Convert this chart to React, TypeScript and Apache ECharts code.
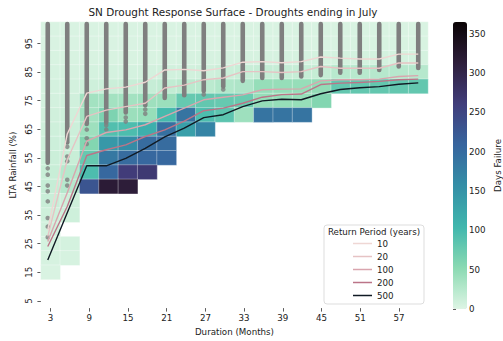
import React, { useEffect, useRef } from "react";
import * as echarts from "echarts";

const TITLE = "SN Drought Response Surface - Droughts ending in July";
const FONT = "DejaVu Sans";

// Durations (months) of the heatmap columns
const durations = [3, 6, 9, 12, 15, 18, 21, 24, 27, 30, 33, 36, 39, 42, 45, 48, 51, 54, 57, 60];
// LTA rainfall (%) of the heatmap rows, bottom to top
const rainfallLevels = [5, 10, 15, 20, 25, 30, 35, 40, 45, 50, 55, 60, 65, 70, 75, 80, 85, 90, 95, 100];
// Colour bar ticks
const colorbarTicks = [0, 50, 100, 150, 200, 250, 300, 350];
const colorbarMax = 365;

// Days failure per rainfall row (columns = durations); null = no data
const N = null;
const df100 = [3, 3, 3, 3, 3, 3, 3, 3, 3, 3, 3, 3, 3, 3, 3, 3, 3, 3, 3, 3];
const df95 = [3, 3, 3, 3, 3, 3, 3, 3, 3, 3, 3, 3, 3, 3, 3, 3, 4, 4, 4, 4];
const df90 = [4, 4, 4, 4, 4, 4, 4, 5, 5, 5, 5, 5, 5, 5, 6, 6, 6, 6, 6, 6];
const df85 = [5, 5, 6, 6, 6, 7, 8, 8, 9, 12, 14, 15, 15, 15, 16, 24, 24, 25, 25, 25];
const df80 = [6, 7, 10, 12, 14, 15, 18, 22, 22, 28, 30, 45, 45, 45, 48, 80, 80, 80, 80, 80];
const df75 = [7, 9, 37, 37, 37, 40, 42, 78, 80, 78, 75, 45, 45, 45, 58, N, N, N, N, N];
const df70 = [9, 10, 37, 62, 42, 45, 100, 190, 95, 85, 40, 190, 190, 190, N, N, N, N, N, N];
const df65 = [10, 11, 40, 92, 95, 115, 195, 135, 170, N, N, N, N, N, N, N, N, N, N, N];
const df60 = [11, 12, 58, 145, 160, 200, 200, N, N, N, N, N, N, N, N, N, N, N, N, N];
const df55 = [12, 14, 78, 185, 200, 205, 205, N, N, N, N, N, N, N, N, N, N, N, N, N];
const df50 = [14, 25, 95, 205, 262, 268, N, N, N, N, N, N, N, N, N, N, N, N, N, N];
const df45 = [15, 25, 230, 318, 315, N, N, N, N, N, N, N, N, N, N, N, N, N, N, N];
const df40 = [13, 10, N, N, N, N, N, N, N, N, N, N, N, N, N, N, N, N, N, N];
const df35 = [10, 10, N, N, N, N, N, N, N, N, N, N, N, N, N, N, N, N, N, N];
const df30 = [8, N, N, N, N, N, N, N, N, N, N, N, N, N, N, N, N, N, N, N];
const df25 = [6, 6, N, N, N, N, N, N, N, N, N, N, N, N, N, N, N, N, N, N];
const df20 = [5, 5, N, N, N, N, N, N, N, N, N, N, N, N, N, N, N, N, N, N];
const df15 = [3, N, N, N, N, N, N, N, N, N, N, N, N, N, N, N, N, N, N, N];

const heatRows: [number, (number | null)[]][] = [
  [100, df100], [95, df95], [90, df90], [85, df85], [80, df80], [75, df75],
  [70, df70], [65, df65], [60, df60], [55, df55], [50, df50], [45, df45],
  [40, df40], [35, df35], [30, df30], [25, df25], [20, df20], [15, df15],
];

// Return period lines: LTA rainfall (%) per duration
const returnPeriods = ["10", "20", "100", "200", "500"];
const rp10 = [30, 63.5, 77.7, 79.2, 79.8, 81.5, 85.8, 86, 85.5, 86.5, 88.5, 88.7, 88.3, 88.7, 90.3, 89.9, 89.6, 89.6, 91.3, 91.3];
const rp20 = [27.8, 54.5, 69.6, 71.8, 73, 74.2, 79.5, 80.5, 82.4, 83, 85.2, 85.2, 84.9, 85.2, 87, 86.4, 86.4, 86.4, 88.2, 88.2];
const rp100 = [26, 43, 61, 64, 64.9, 66.7, 69.6, 72.5, 75.4, 76.3, 77.1, 78.9, 79.1, 79.2, 82, 82.4, 82.4, 82.6, 83.5, 83.8];
const rp200 = [24.3, 38.2, 56, 58, 59.7, 62.6, 64.9, 68, 71.6, 72.5, 74.2, 76.3, 77.2, 77.4, 80.7, 81.2, 81.4, 81.8, 82.4, 82.6];
const rp500 = [19.6, 36, 52.4, 52.4, 55, 58.5, 62.5, 65.5, 69.2, 70.2, 73, 75, 75.6, 75.4, 77.5, 79, 79.6, 80, 80.8, 81.3];
const rpSeries = [rp10, rp20, rp100, rp200, rp500];
const rpColors = ["#efd7d4", "#e6c3c4", "#d9a5ae", "#bb7488", "#101a24"];

// Drought events (grey dots): dense runs per duration and isolated dots below them
const dotsDenseLow = [53.5, 60.5, 67, 67.5, 71, 73.5, 76, 77, 78.5, 80, 82, 83, 83, 83.5, 84, 84.8, 84.8, 85.8, 87, 86.5];
const dotsDenseTop = [101.8, 101.8, 101.8, 101.8, 101.8, 101.8, 101.8, 101.8, 101.8, 101.8, 101.8, 101.8, 101.8, 101.8, 101.8, 101.8, 101.8, 101.8, 101.8, 101.8];
const sparseDots: [number, number][] = [
  [3, 51.5], [3, 49.3], [3, 45.5], [3, 43.5], [3, 40], [3, 34.2], [3, 31.2], [3, 27.5],
  [6, 59], [6, 55.6], [6, 54], [6, 47.5], [6, 45.5],
  [9, 65], [9, 62], [9, 60],
  [12, 66.5], [12, 65],
  [15, 69.2], [15, 67.8],
  [18, 72], [18, 70.5],
  [27, 77.2],
  [30, 79],
];

const makoR = ["#DEF5E5", "#8BDAB2", "#40B7AD", "#348FA7", "#37659E", "#413D7B", "#2E1E3B", "#0B0405"];

const PLOT = { left: 38, top: 22, width: 390, height: 287 };
const CBAR = { left: 453, top: 22, width: 14, height: 287 };
const TXT = "#222";
const FS = 8.7;

function buildOption() {
  const heatData: [number, number, number][] = [];
  heatRows.forEach(([level, row]) => {
    const yi = rainfallLevels.indexOf(level);
    row.forEach((v, xi) => {
      if (v !== null) heatData.push([xi, yi, v]);
    });
  });

  const tickStyle = { show: true, length: 3.5, lineStyle: { color: "#333", width: 0.8 } };

  return {
    animation: false,
    backgroundColor: "#ffffff",
    textStyle: { fontFamily: FONT },
    title: {
      text: TITLE,
      left: PLOT.left + PLOT.width / 2,
      top: 7,
      padding: 0,
      textAlign: "center",
      textStyle: { fontFamily: FONT, fontSize: 10.45, fontWeight: "normal", color: TXT },
    },
    grid: [
      { ...PLOT },
      { ...PLOT },
      { ...CBAR },
    ],
    xAxis: [
      {
        type: "category",
        gridIndex: 0,
        data: durations.map(String),
        axisLine: { show: false },
        axisTick: { ...tickStyle, interval: 1, alignWithLabel: true },
        axisLabel: { interval: 1, fontSize: FS, color: TXT, margin: 5, fontFamily: FONT },
        splitLine: { show: false },
        name: "Duration (Months)",
        nameLocation: "middle",
        nameGap: 17,
        nameTextStyle: { fontSize: FS, color: TXT, fontFamily: FONT },
      },
      { type: "value", gridIndex: 1, min: 1.5, max: 61.5, show: false },
      { type: "value", gridIndex: 2, min: 0, max: 1, show: false },
    ],
    yAxis: [
      {
        type: "category",
        gridIndex: 0,
        data: rainfallLevels.map(String),
        axisLine: { show: false },
        axisTick: { ...tickStyle, interval: 1, alignWithLabel: true },
        axisLabel: { interval: 1, rotate: 90, fontSize: FS, color: TXT, margin: 7, fontFamily: FONT },
        splitLine: { show: false },
        name: "LTA Rainfall (%)",
        nameLocation: "middle",
        nameGap: 20,
        nameTextStyle: { fontSize: FS, color: TXT, fontFamily: FONT },
      },
      { type: "value", gridIndex: 1, min: 2.5, max: 102.5, show: false },
      {
        type: "value",
        gridIndex: 2,
        position: "right",
        min: 0,
        max: colorbarMax,
        interval: 50,
        axisLine: { show: false },
        axisTick: { show: true, length: 3, customValues: colorbarTicks, lineStyle: { color: "#333", width: 0.8 } },
        axisLabel: { customValues: colorbarTicks, fontSize: FS, color: TXT, margin: 5, fontFamily: FONT },
        splitLine: { show: false },
        name: "Days Failure",
        nameLocation: "middle",
        nameGap: 29,
        nameTextStyle: { fontSize: FS, color: TXT, fontFamily: FONT },
      },
    ],
    visualMap: {
      type: "continuous",
      min: 0,
      max: colorbarMax,
      dimension: 2,
      seriesIndex: 0,
      calculable: false,
      hoverLink: false,
      orient: "vertical",
      left: CBAR.left,
      top: CBAR.top,
      itemWidth: CBAR.width,
      itemHeight: CBAR.height,
      padding: 0,
      inRange: { color: makoR },
    },
    legend: {
      data: returnPeriods,
      orient: "vertical",
      left: 353,
      top: 237,
      padding: 0,
      icon: "rect",
      itemWidth: 19,
      itemHeight: 1.5,
      itemGap: 0,
      selectedMode: false,
      z: 60,
      textStyle: { fontSize: FS, color: TXT, lineHeight: 13, fontFamily: FONT },
    },
    graphic: [
      {
        type: "rect",
        x: 324,
        y: 225,
        z: 50,
        shape: { width: 100, height: 79, r: 3 },
        style: { fill: "rgba(255,255,255,0.85)", stroke: "#d4d4d4", lineWidth: 0.8 },
      },
      {
        type: "text",
        x: 374,
        y: 232,
        z: 51,
        style: {
          text: "Return Period (years)",
          fontSize: FS,
          fontFamily: FONT,
          fill: TXT,
          align: "center",
          verticalAlign: "middle",
        },
      },
    ],
    series: [
      {
        type: "heatmap",
        xAxisIndex: 0,
        yAxisIndex: 0,
        data: heatData,
        z: 1,
        itemStyle: { borderColor: "rgba(255,255,255,0.55)", borderWidth: 0.6 },
        emphasis: { disabled: true },
      },
      {
        type: "custom",
        xAxisIndex: 1,
        yAxisIndex: 1,
        z: 3,
        silent: true,
        data: durations.map((d, i) => [d, dotsDenseLow[i], dotsDenseTop[i]]),
        renderItem: (_params: any, api: any) => {
          const p0 = api.coord([api.value(0), api.value(1)]);
          const p1 = api.coord([api.value(0), api.value(2)]);
          return {
            type: "line",
            shape: { x1: p0[0], y1: p0[1], x2: p1[0], y2: p1[1] },
            style: { stroke: "#7f7f7f", lineWidth: 4.6, lineCap: "round" },
          };
        },
      },
      {
        type: "scatter",
        xAxisIndex: 1,
        yAxisIndex: 1,
        z: 3,
        silent: true,
        symbolSize: 4.6,
        itemStyle: { color: "#7f7f7f" },
        data: sparseDots,
      },
      ...rpSeries.map((vals, k) => ({
        type: "line",
        name: returnPeriods[k],
        xAxisIndex: 1,
        yAxisIndex: 1,
        z: 4,
        symbol: "none",
        silent: true,
        data: durations.map((d, i) => [d, vals[i]]),
        lineStyle: { color: rpColors[k], width: 1.4 },
        itemStyle: { color: rpColors[k] },
      })),
    ],
  };
}

export default function App() {
  const ref = useRef<HTMLDivElement | null>(null);
  useEffect(() => {
    if (!ref.current) return;
    const chart = echarts.init(ref.current, undefined, { renderer: "svg" });
    chart.setOption(buildOption() as any);
    return () => chart.dispose();
  }, []);
  return (
    <div
      ref={ref}
      style={{ position: "fixed", left: 0, top: 0, width: 503, height: 341, background: "#fff" }}
    />
  );
}
